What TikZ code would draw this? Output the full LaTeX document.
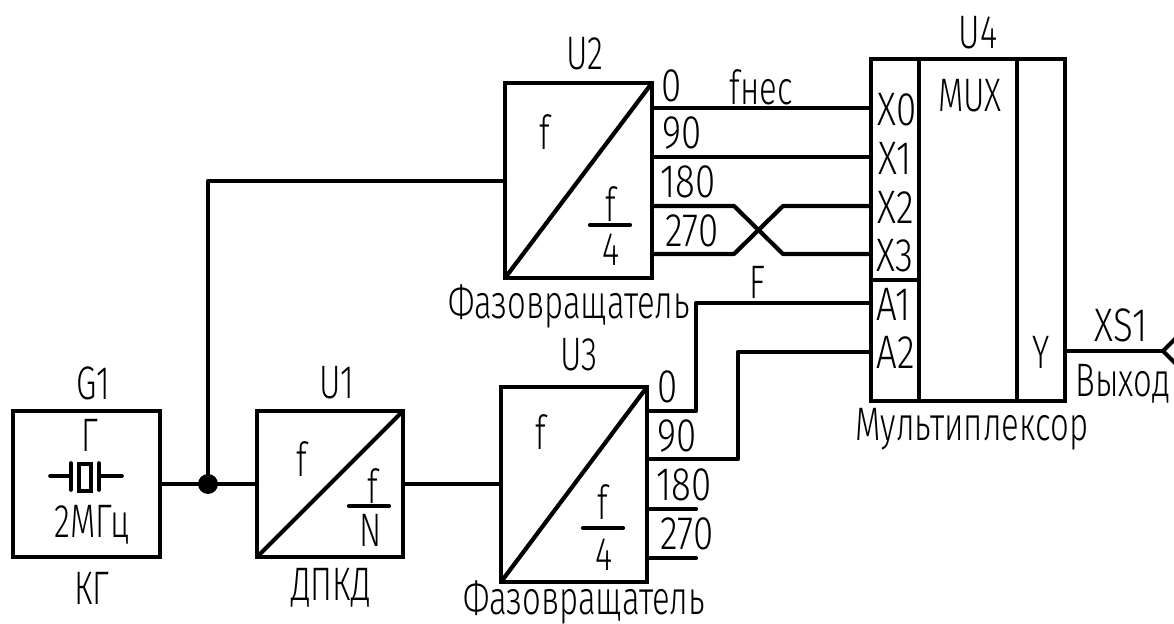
\documentclass[tikz,border=0pt]{standalone}
\usepackage{fontspec}
\setmainfont{Fira Sans Light}[FakeStretch=0.7]
\newfontfamily\numface{Fira Sans Light}[FakeStretch=0.78]
\begin{document}
\begin{tikzpicture}[x=0.5pt,y=-0.5pt,
  block/.style={draw,line width=2.1pt,rectangle,inner sep=0pt,outer sep=0pt,anchor=north west},
  wire/.style={line width=2.1pt,line cap=round,line join=round},
  lbl/.style={inner sep=0pt,font=\fontsize{23.5}{23.5}\selectfont},
  numlbl/.style={inner sep=0pt,font=\numface\fontsize{23.5}{23.5}\selectfont},
  dot/.style={circle,fill=black,inner sep=0pt,outer sep=0pt,minimum size=10pt}]
\useasboundingbox (0,0) rectangle (1174,624);
% blocks
\node[block,minimum width=73.5pt,minimum height=73pt] (g1) at (13,411) {};
\node[block,minimum width=73pt,minimum height=73pt] (u1) at (257,411) {};
\node[block,minimum width=73pt,minimum height=97.5pt] (u3) at (501,387) {};
\node[block,minimum width=73.5pt,minimum height=97.5pt] (u2) at (505,83) {};
\node[block,minimum width=97pt,minimum height=171pt] (u4) at (871,59) {};
% diagonals
\draw[wire] (u1.south west) -- (u1.north east);
\draw[wire] (u3.south west) -- (u3.north east);
\draw[wire] (u2.south west) -- (u2.north east);
% U4 dividers
\coordinate (d1t) at (919,59); \coordinate (d1b) at (919,401);
\coordinate (d2t) at (1017,59); \coordinate (d2b) at (1017,401);
\coordinate (al) at (871,280); \coordinate (ar) at (919,280);
\draw[wire] (d1t) -- (d1b);
\draw[wire] (d2t) -- (d2b);
\draw[wire] (al) -- (ar);
% junction and main wires
\node[dot] (j) at (208,484) {};
\draw[wire] (160,484) coordinate (g1o) -- (j);
\draw[wire] (j) -- (257,484) coordinate (u1i);
\draw[wire] (403,484) coordinate (u1o) -- (501,484) coordinate (u3i);
\draw[wire] (j) -- (208,181) coordinate (tc) -- (505,181) coordinate (u2i);
% U2 outputs
\coordinate (x0) at (871,108); \coordinate (x1) at (871,157);
\coordinate (x2) at (871,206); \coordinate (x3) at (871,254);
\coordinate (o0) at (652,108); \coordinate (o1) at (652,157);
\coordinate (o2) at (652,206); \coordinate (o3) at (652,254);
\draw[wire] (o0) -- (x0);
\draw[wire] (o1) -- (x1);
\draw[wire] (o2) -- (734,206) -- (783,254) -- (x3);
\draw[wire] (o3) -- (734,254) -- (783,206) -- (x2);
% U3 outputs
\coordinate (a1) at (871,303); \coordinate (a2) at (871,352);
\draw[wire] (647,411) coordinate (p0) -- (696,411) -- (696,303) -- (a1);
\draw[wire] (647,459) coordinate (p1) -- (738,459) -- (738,352) -- (a2);
\draw[wire] (647,509) coordinate (p2) -- (696,509) coordinate (p2e);
\draw[wire] (647,558) coordinate (p3) -- (696,558) coordinate (p3e);
% output
\coordinate (yo) at (1065,351); \coordinate (xs) at (1163,351);
\draw[wire] (yo) -- (xs);
\draw[wire] (1176,338) coordinate (xa) -- (xs) -- (1176,364) coordinate (xb);
% crystal
\draw[wire,line width=1.8pt] (50,476) coordinate (cl) -- (71,476) coordinate (cl2);
\draw[wire,line width=1.8pt] (71,463) coordinate (pa) -- (71,490) coordinate (pb);
\draw[line width=1.8pt] (79,464) rectangle (91,491);
\draw[wire,line width=1.8pt] (99,463) coordinate (pc) -- (99,490) coordinate (pd);
\draw[wire,line width=1.8pt] (99,476) coordinate (cr2) -- (122,476) coordinate (cr);
% fraction bars
\draw[wire] (349,506) coordinate (b1a) -- (389,506) coordinate (b1b);
\draw[wire] (583,528) coordinate (b3a) -- (623,528) coordinate (b3b);
\draw[wire] (590,225) coordinate (b2a) -- (630,225) coordinate (b2b);
% labels
\node[lbl] (tg1) at (93,383) {G1};
\node[lbl] (tu1) at (337,383) {U1};
\node[lbl] (tu2) at (585,54) {U2};
\node[lbl] (tu3) at (579,355) {U3};
\node[lbl] (tu4) at (978,33) {U4};
\node[lbl] (tkg) at (92,588) {КГ};
\node[lbl] (tdp) at (331,588) {ДПКД};
\node[lbl] (tgam) at (90,435) {Г};
\node[lbl] (tmhz) at (92,525) {2МГц};
\node[lbl] (tf1) at (302,459) {f};
\node[lbl] (tf1b) at (373,486) {f};
\node[lbl] (tn) at (371,530) {N};
\node[lbl] (tf3) at (541,432) {f};
\node[lbl] (tf3b) at (603,502) {f};
\node[lbl] (t43) at (604,555) {4};
\node[lbl] (tf2) at (545,132) {f};
\node[lbl] (tf2b) at (611,204) {f};
\node[lbl] (t42) at (611,250) {4};
\node[numlbl] (t20) at (672,86) {0};
\node[numlbl] (t290) at (682,133) {90};
\node[numlbl] (t2180) at (688,182) {180};
\node[numlbl] (t2270) at (692,231) {270};
\node[numlbl] (t30) at (668,387) {0};
\node[numlbl] (t390) at (677,436) {90};
\node[numlbl] (t3180) at (684,485) {180};
\node[numlbl] (t3270) at (687,534) {270};
\node[lbl] (tfn) at (761,87) {fнес};
\node[lbl] (tF) at (757,282) {F};
\node[numlbl] (tx0) at (897,110) {X0};
\node[numlbl] (tx1) at (895,158) {X1};
\node[numlbl] (tx2) at (896,207) {X2};
\node[numlbl] (tx3) at (895,256) {X3};
\node[numlbl] (ta1) at (894,304) {A1};
\node[numlbl] (ta2) at (896,352) {A2};
\node[lbl] (ty) at (1041,352) {Y};
\node[lbl] (tmux) at (970,96) {MUX};
\node[numlbl] (txs) at (1121,325) {XS1};
\node[lbl] (tvy) at (1123,384) {Выход};
\node[lbl] (tmul) at (972,429) {Мультиплексор};
\node[lbl] (tph1) at (569,306) {Фазовращатель};
\node[lbl] (tph3) at (584,602) {Фазовращатель};
\end{tikzpicture}
\end{document}
